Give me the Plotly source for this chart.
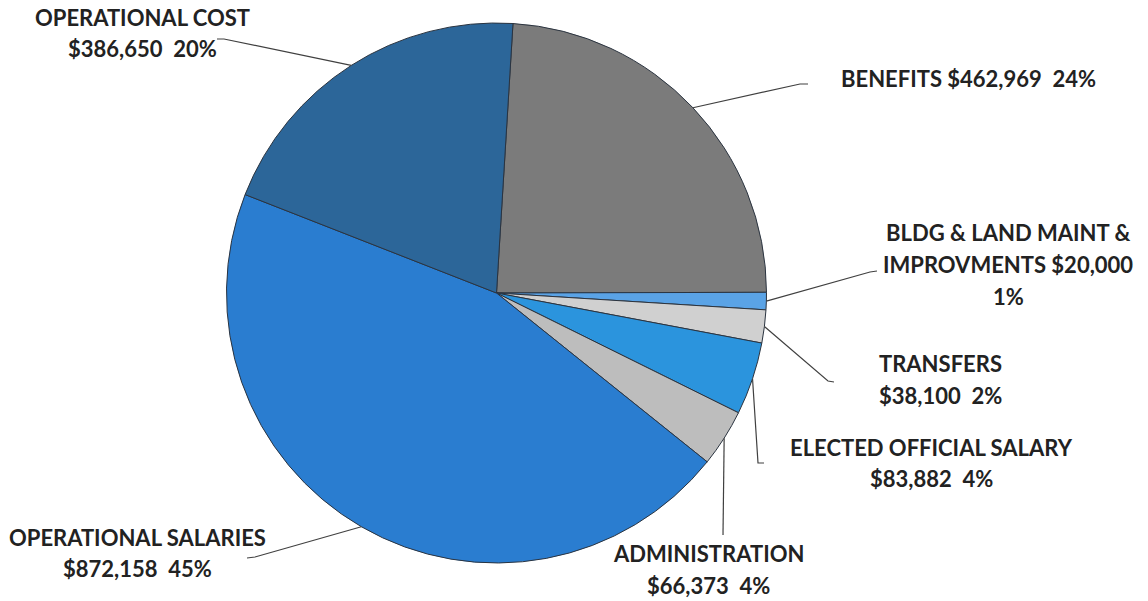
import math
import plotly.graph_objects as go

# ---- data ----
categories = ["BENEFITS", "BLDG & LAND MAINT & IMPROVMENTS", "TRANSFERS",
              "ELECTED OFFICIAL SALARY", "ADMINISTRATION",
              "OPERATIONAL SALARIES", "OPERATIONAL COST"]
values = [462969, 20000, 38100, 83882, 66373, 872158, 386650]
pct_labels = ["24%", "1%", "2%", "4%", "4%", "45%", "20%"]
colors = ["#7b7b7b", "#5aa3e6", "#d0d0d0", "#2b94dd", "#bdbdbd", "#2a7dd0", "#2c6699"]

# ---- geometry / style ----
W, H = 1148, 601
CX, CY, R = 496.5, 293.0, 270.0
ROT = 3.5
FONT = dict(family="Lato, 'Open Sans', sans-serif", size=22, color="#222222")


def px(x):
    return x / W


def py(y):
    return 1 - y / H


fig = go.Figure(go.Pie(
    labels=categories, values=values, sort=False, direction="clockwise",
    rotation=ROT, textinfo="none", hoverinfo="label+value+percent",
    marker=dict(colors=colors, line=dict(color="#2b3440", width=1)),
    domain=dict(x=[px(CX - R), px(CX + R)], y=[py(CY + R), py(CY - R)]),
    showlegend=False,
))

# slice mid-angles (clockwise from 12 o'clock) -> anchor points on the rim
total = sum(values)
anchors = []
acc = ROT
for v in values:
    span = v / total * 360
    mid = math.radians(acc + span / 2)
    anchors.append((CX + R * math.sin(mid), CY - R * math.cos(mid)))
    acc += span


def money(v):
    return f"${v:,}"


NB = "\u00a0 "
label_lines = [
    [f"BENEFITS {money(values[0])}{NB}{pct_labels[0]}"],
    ["BLDG & LAND MAINT &", f"IMPROVMENTS {money(values[1])}", pct_labels[1]],
    ["TRANSFERS", f"{money(values[2])}{NB}{pct_labels[2]}"],
    ["ELECTED OFFICIAL SALARY", f"{money(values[3])}{NB}{pct_labels[3]}"],
    ["ADMINISTRATION", f"{money(values[4])}{NB}{pct_labels[4]}"],
    ["OPERATIONAL SALARIES", f"{money(values[5])}{NB}{pct_labels[5]}"],
    ["OPERATIONAL COST", f"{money(values[6])}{NB}{pct_labels[6]}"],
]
# label centre x, first line y, line spacing
label_pos = [
    (968, 78, 31),
    (1008, 232, 32),
    (940, 363, 32),
    (931, 447, 31),
    (708, 553, 32),
    (137, 537, 31),
    (142, 18, 30),
]
# leader line bends after the rim anchor
leader_pts = [
    [(800, 84), (808, 84)],
    [(870, 272), (877, 271)],
    [(828, 381), (834, 382)],
    [(758, 463), (764, 463)],
    [(723, 535)],
    [(255, 557), (247, 558)],
    [(224, 39), (217, 39)],
]

annotations = []
shapes = []
for i in range(len(values)):
    cx, y0, dy = label_pos[i]
    for j, line in enumerate(label_lines[i]):
        annotations.append(dict(
            x=px(cx), y=py(y0 + j * dy), xref="paper", yref="paper",
            text=f"<b>{line}</b>", showarrow=False, xanchor="center",
            yanchor="middle", font=FONT))
    ax, ay = anchors[i]
    pts = [(ax, ay)] + leader_pts[i]
    path = "M " + " L ".join(f"{px(x)},{py(y)}" for x, y in pts)
    shapes.append(dict(type="path", path=path, xref="paper", yref="paper",
                       line=dict(color="#404040", width=1.2)))

fig.update_layout(
    width=W, height=H, margin=dict(l=0, r=0, t=0, b=0),
    paper_bgcolor="white", plot_bgcolor="white",
    annotations=annotations, shapes=shapes,
)

fig.write_html("out.html", config={"displayModeBar": False},
               post_script="document.body.style.margin='0';document.body.style.overflow='hidden';")
